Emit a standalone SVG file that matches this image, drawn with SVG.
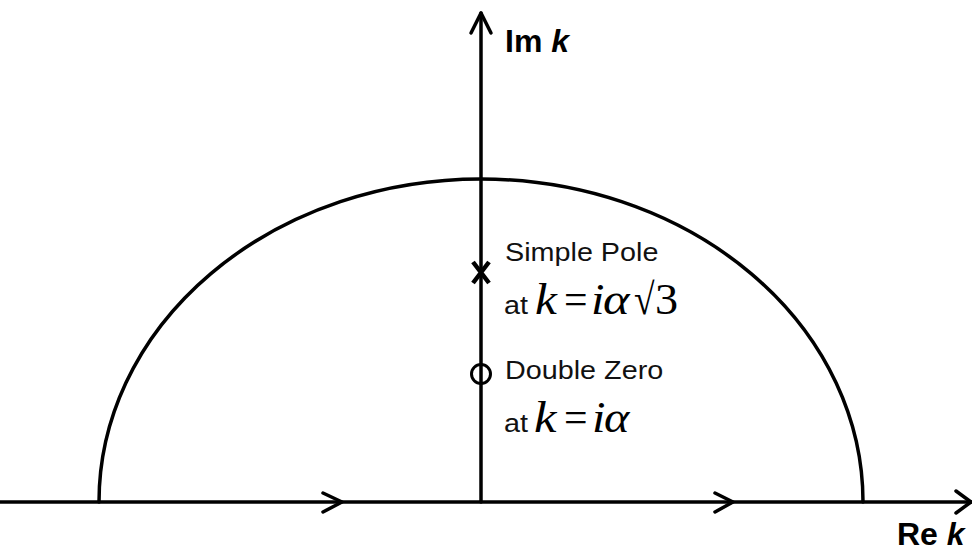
<svg xmlns="http://www.w3.org/2000/svg" width="972" height="553" viewBox="0 0 972 553">
<style>
.ln{fill:none;stroke:#000;stroke-width:3.5;stroke-linecap:round;stroke-linejoin:round}
.sans{font-family:"Liberation Sans",Arial,sans-serif;fill:#111}
.ax{font-family:"Liberation Sans",Arial,sans-serif;font-weight:bold;font-size:32px;fill:#000}
.lab{font-size:25px}
.m{font-family:"Liberation Serif","Times New Roman",serif;font-size:44px;fill:#000}
.it{font-style:italic}
</style>
<rect width="972" height="553" fill="#fff"/>
<g id="connectors">
  <path class="ln" d="M0,502 H972"/>
  <path class="ln" d="M481,502 V13"/>
  <path class="ln" d="M99,502 A382,323 0 0 1 863,502"/>
  <path class="ln" d="M471,33 L481,13 L491,33"/>
  <path class="ln" d="M956,491 L971,502 L956,513"/>
  <path class="ln" d="M323,493 L342,502 L323,512"/>
  <path class="ln" d="M715,493 L733,502 L715,512"/>
</g>
<g id="im-axis-label"><text class="ax" x="505" y="52">Im <tspan font-style="italic">k</tspan></text></g>
<g id="re-axis-label"><text class="ax" x="897" y="545">Re <tspan font-style="italic">k</tspan></text></g>
<g id="simple-pole">
  <path d="M473,262 L489,283 M489,262 L473,283" fill="none" stroke="#000" stroke-width="4.5"/>
  <text class="sans lab" transform="translate(505,261) scale(1.15,1)">Simple Pole</text>
  <text class="sans lab" transform="translate(504,314) scale(1.15,1)">at</text>
  <text class="m it" transform="translate(535,314) scale(1.12,1)">k</text>
  <text class="m" transform="translate(564,314) scale(0.95,1)">=</text>
  <text class="m it" transform="translate(591,314) scale(1.1,1)">i</text>
  <text class="m it" transform="translate(603,314) scale(1.15,1)">α</text>
  <text class="m" transform="translate(634,314) scale(0.85,1)">√</text>
  <text class="m" transform="translate(655,314) scale(1.05,1)">3</text>
</g>
<g id="double-zero">
  <circle cx="481" cy="374" r="9.5" fill="none" stroke="#000" stroke-width="3"/>
  <text class="sans lab" transform="translate(505,379) scale(1.15,1)">Double Zero</text>
  <text class="sans lab" transform="translate(504,432) scale(1.15,1)">at</text>
  <text class="m it" transform="translate(534,432) scale(1.15,1)">k</text>
  <text class="m" transform="translate(564,432) scale(0.95,1)">=</text>
  <text class="m it" transform="translate(592,432) scale(1.1,1)">i</text>
  <text class="m it" transform="translate(604,432) scale(1.1,1)">α</text>
</g>
</svg>
